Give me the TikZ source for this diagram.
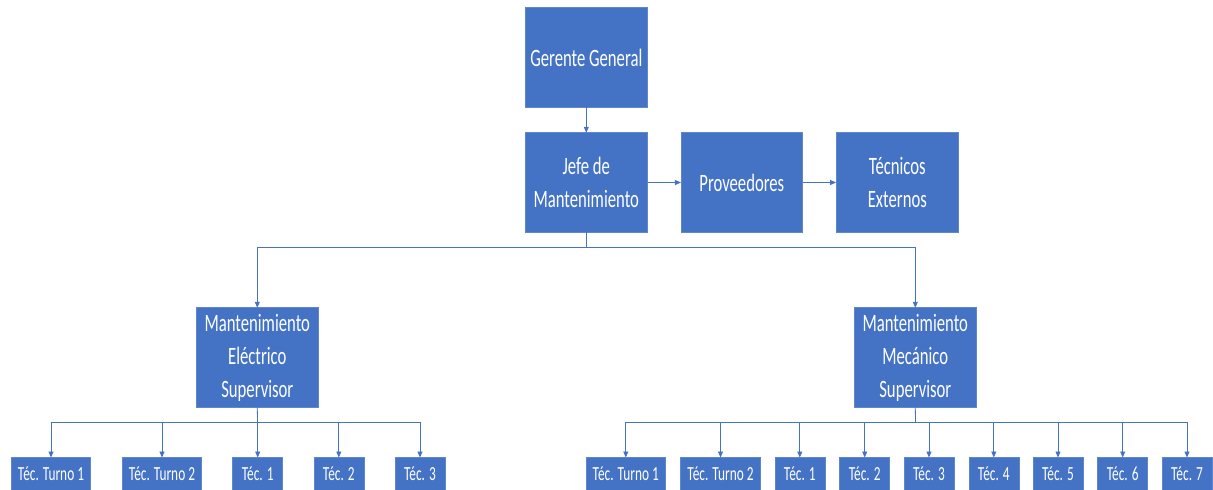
\documentclass[tikz,border=0pt]{standalone}
\usepackage{fontspec}
\usetikzlibrary{arrows.meta}
\newfontfamily\boxfont[FakeStretch=0.667]{Carlito}
\definecolor{orgblue}{HTML}{4472C4}
\tikzset{
  unitbox/.style={fill=orgblue, draw=orgblue!85!white, line width=0.6pt, inner sep=0pt, outer sep=0pt,
    text=white, align=center},
  bigbox/.style={unitbox, minimum width=122.5pt, minimum height=99.5pt,
    font=\boxfont\fontsize{25}{33}\selectfont},
  smallbox/.style={unitbox, minimum height=32.5pt,
    font=\boxfont\fontsize{20}{24}\selectfont},
  wide/.style={smallbox, minimum width=79.5pt},
  narrow/.style={smallbox, minimum width=50pt},
  link/.style={draw=orgblue, line width=0.8pt},
  arrowlink/.style={link, -{Triangle[length=6pt, width=5pt]}}
}
\begin{document}
\begin{tikzpicture}[x=1pt, y=-1pt]
  \useasboundingbox (0,0) rectangle (1213,490);

  % upper management
  \node[bigbox] (gg)   at (586.3, 57.5)  {Gerente General};
  \node[bigbox] (jefe) at (586.3, 182.5) {Jefe de\\Mantenimiento};
  \node[bigbox, minimum width=121.7pt] (prov) at (741.8, 182.5) {Proveedores};
  \node[bigbox] (ext)  at (897.3, 182.5) {Técnicos\\Externos};

  % supervisors
  \node[bigbox] (ele) at (257.3, 357.5) {Mantenimiento\\Eléctrico\\Supervisor};
  \node[bigbox] (mec) at (915.3, 357.5) {Mantenimiento\\Mecánico\\Supervisor};

  % electrical team
  \node[wide]   (et1) at (51.0, 473.75)  {Téc. Turno 1};
  \node[wide]   (et2) at (162.0, 473.75) {Téc. Turno 2};
  \node[narrow] (ea)  at (257.7, 473.75) {Téc. 1};
  \node[narrow] (eb)  at (338.8, 473.75) {Téc. 2};
  \node[narrow] (ec)  at (420.0, 473.75) {Téc. 3};

  % mechanical team
  \node[wide]   (mt1) at (625.8, 473.75)  {Téc. Turno 1};
  \node[wide]   (mt2) at (720.5, 473.75)  {Téc. Turno 2};
  \node[narrow] (ma)  at (799.8, 473.75)  {Téc. 1};
  \node[narrow] (mb)  at (864.7, 473.75)  {Téc. 2};
  \node[narrow] (mc)  at (929.0, 473.75)  {Téc. 3};
  \node[narrow] (md)  at (993.8, 473.75)  {Téc. 4};
  \node[narrow] (me)  at (1058.0, 473.75) {Téc. 5};
  \node[narrow] (mf)  at (1122.7, 473.75) {Téc. 6};
  \node[narrow] (mg)  at (1187.0, 473.75) {Téc. 7};

  % bus junctions
  \coordinate (busM) at (586.3, 247.3);
  \coordinate (busE) at (257.5, 422.3);
  \coordinate (busC) at (915.5, 422.3);

  % top chain
  \draw[arrowlink] (gg) -- (jefe);
  \draw[arrowlink] (jefe) -- (prov);
  \draw[arrowlink] (prov) -- (ext);

  % jefe to supervisors
  \draw[link] (jefe.south) -- (busM);
  \draw[arrowlink] (busM) -| (ele.north);
  \draw[arrowlink] (busM) -| (mec.north);

  % electrical branch
  \draw[link] (ele.south) -- (busE);
  \foreach \n in {et1,et2,ea,eb,ec}
    \draw[arrowlink] (busE) -| (\n.north);

  % mechanical branch
  \draw[link] (mec.south) -- (busC);
  \foreach \n in {mt1,mt2,ma,mb,mc,md,me,mf,mg}
    \draw[arrowlink] (busC) -| (\n.north);
\end{tikzpicture}
\end{document}
